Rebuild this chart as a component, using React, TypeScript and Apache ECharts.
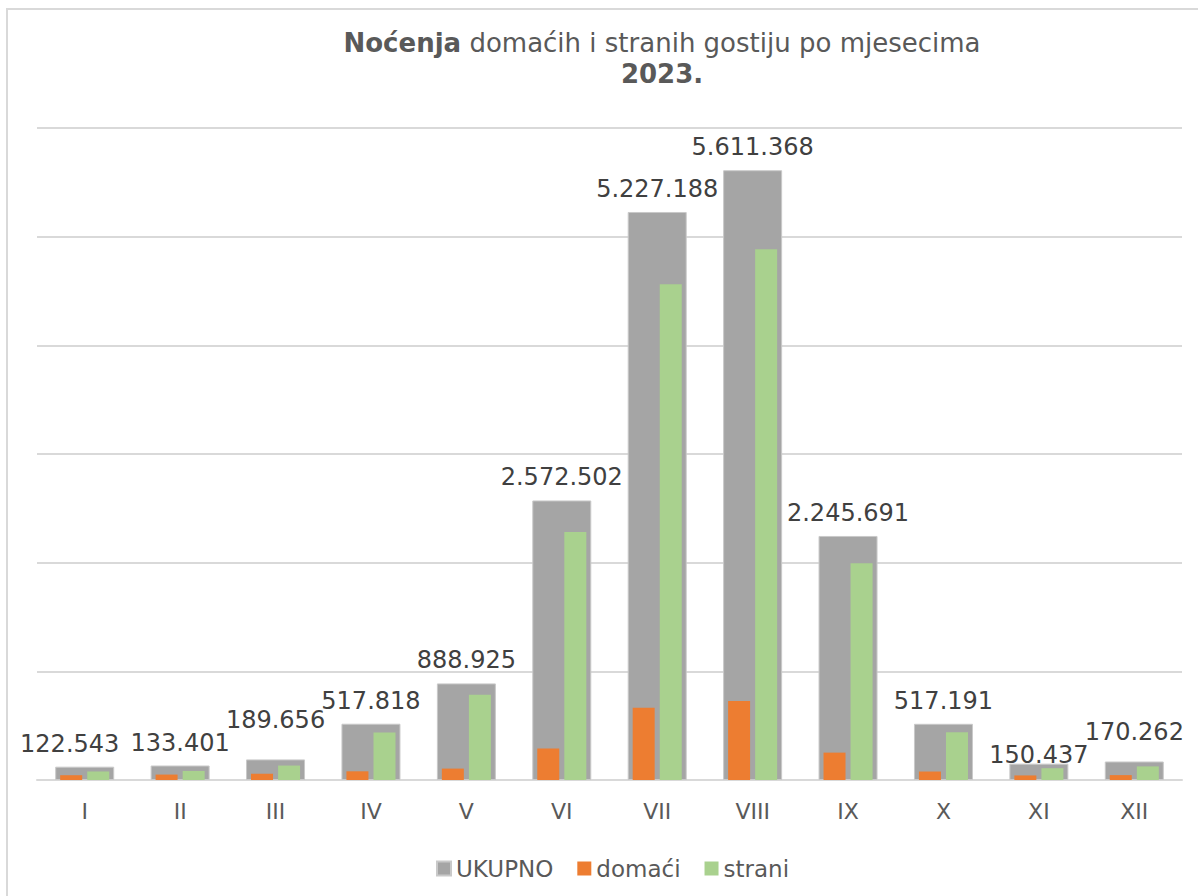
import React, { useEffect, useRef } from "react";
import * as echarts from "echarts";

const months = ["I", "II", "III", "IV", "V", "VI", "VII", "VIII", "IX", "X", "XI", "XII"];
const ukupno = [122543, 133401, 189656, 517818, 888925, 2572502, 5227188, 5611368, 2245691, 517191, 150437, 170262];
const domaci = [44000, 50000, 57000, 80000, 105000, 290000, 665000, 727000, 252000, 78000, 42000, 45000];
const strani = [78500, 83400, 132700, 437800, 783900, 2282500, 4562200, 4884400, 1993700, 439200, 108400, 125300];
const yTicks = [0, 1000000, 2000000, 3000000, 4000000, 5000000, 6000000];

// label nudges (style only), mimicking the reference's label placement
const labelShiftX = [-15, 0, 0, 0, 0, 0, 0, 0, 0, 0, 0, 0];
const labelShiftY = [0, 0, -16, 0, 0, 0, 0, 0, 0, 0, 14, -6];

const FONT = "DejaVu Sans, Verdana, sans-serif";

function fmt(v: number): string {
  return String(Math.round(v)).replace(/\B(?=(\d{3})+(?!\d))/g, ".");
}

export default function App() {
  const ref = useRef<HTMLDivElement>(null);
  useEffect(() => {
    if (!ref.current) return;
    const chart = echarts.init(ref.current, null, { renderer: "svg" });
    chart.setOption({
      animation: false,
      backgroundColor: "#ffffff",
      title: {
        text: "{b|Noćenja} domaćih i stranih gostiju po mjesecima\n{b|2023.}",
        left: 657,
        top: 22,
        textAlign: "center",
        textStyle: {
          fontFamily: FONT,
          fontSize: 26,
          fontWeight: "normal",
          color: "#595959",
          lineHeight: 31,
          rich: {
            b: { fontFamily: FONT, fontSize: 26, fontWeight: "bold", color: "#595959", lineHeight: 31 },
          },
        },
      },
      graphic: [
        {
          type: "rect",
          shape: { x: 7, y: 9, width: 1210, height: 910 },
          style: { fill: "none", stroke: "#D9D9D9", lineWidth: 2 },
          silent: true,
          z: -1,
        },
      ],
      legend: {
        left: 431,
        top: 852,
        itemWidth: 14,
        itemHeight: 14,
        itemGap: 24,
        icon: "rect",
        textStyle: { fontFamily: FONT, fontSize: 23, color: "#595959" },
        data: ["UKUPNO", "domaći", "strani"],
      },
      grid: { left: 37, right: 16, top: 128, bottom: 116, containLabel: false },
      xAxis: [
        {
          type: "category",
          data: months,
          axisLine: { lineStyle: { color: "#D9D9D9", width: 2 } },
          axisTick: { show: false },
          axisLabel: { fontFamily: FONT, fontSize: 22, color: "#595959", margin: 20 },
        },
        {
          type: "category",
          data: months,
          show: false,
          position: "bottom",
        },
      ],
      yAxis: {
        type: "value",
        min: yTicks[0],
        max: yTicks[yTicks.length - 1],
        interval: 1000000,
        axisLabel: { show: false },
        axisLine: { show: false },
        axisTick: { show: false },
        splitLine: { lineStyle: { color: "#D9D9D9", width: 2 } },
      },
      series: [
        {
          name: "UKUPNO",
          type: "bar",
          xAxisIndex: 0,
          barWidth: 59,
          itemStyle: { color: "#A5A5A5", borderColor: "#C9C9C9", borderWidth: 1 },
          label: {
            show: true,
            position: "top",
            distance: 11,
            fontFamily: FONT,
            fontSize: 24,
            color: "#404040",
            formatter: (p: any) => fmt(p.value),
          },
          data: ukupno.map((v, i) => ({ value: v, label: { offset: [labelShiftX[i], labelShiftY[i]] } })),
          z: 2,
        },
        {
          name: "domaći",
          type: "bar",
          xAxisIndex: 1,
          barWidth: 22,
          barGap: "23%",
          itemStyle: { color: "#ED7D31" },
          data: domaci,
          z: 3,
        },
        {
          name: "strani",
          type: "bar",
          xAxisIndex: 1,
          barWidth: 22,
          barGap: "23%",
          itemStyle: { color: "#A9D18E" },
          data: strani,
          z: 3,
        },
      ],
    });
    return () => chart.dispose();
  }, []);
  return (
    <div
      ref={ref}
      style={{ position: "fixed", left: 0, top: 0, width: 1198, height: 896, background: "#fff" }}
    />
  );
}
